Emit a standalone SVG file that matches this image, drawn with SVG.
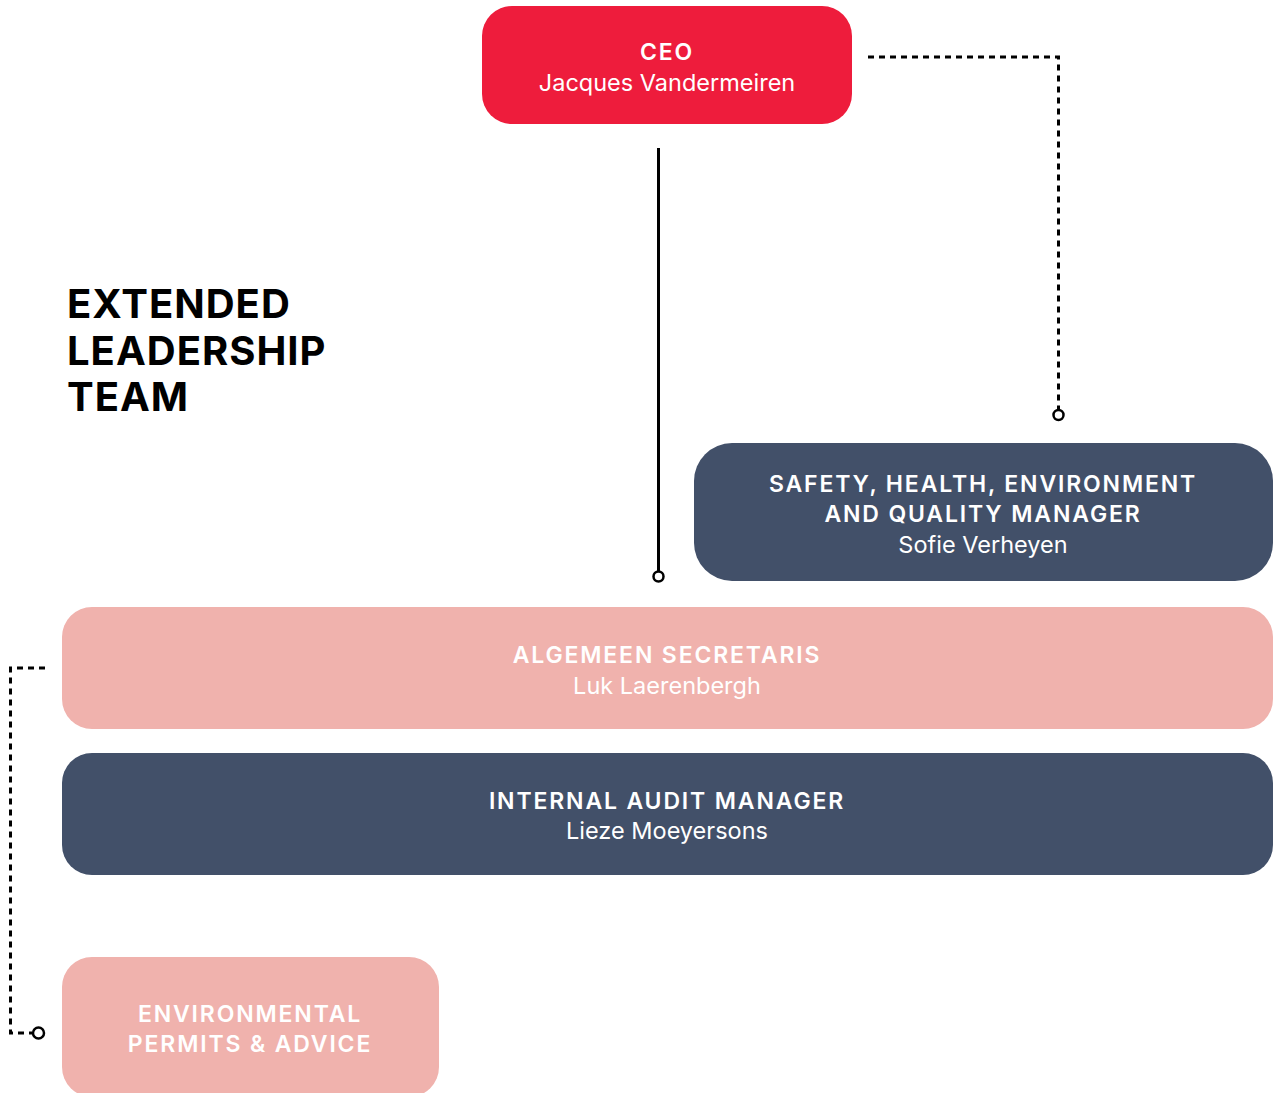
<svg xmlns="http://www.w3.org/2000/svg" width="1274" height="1093" viewBox="0 0 1274 1093">
<style>
.cap{font-family:Inter,"Liberation Sans",sans-serif;font-weight:600;font-size:23px;letter-spacing:1.85px;fill:#fff;text-anchor:middle}
.nm{font-family:Inter,"Liberation Sans",sans-serif;font-weight:400;font-size:23.5px;fill:#fff;text-anchor:middle}
.red{fill:#EE1C3C}
.navy{fill:#425069}
.pink{fill:#F0B2AD}
.solid{stroke:#000;stroke-width:3;fill:none}
.dash{stroke:#000;stroke-width:3;fill:none;stroke-dasharray:6 5}
.end{fill:#fff;stroke:#000;stroke-width:2.5}
.title{font-family:Inter,"Liberation Sans",sans-serif;font-weight:700;font-size:40px;letter-spacing:1px;fill:#000}
</style>
<rect width="1274" height="1093" fill="#fff"/>
<g id="title">
<text class="title" x="67" y="318">EXTENDED</text>
<text class="title" x="67" y="365">LEADERSHIP</text>
<text class="title" x="67" y="411">TEAM</text>
</g>
<g id="connectors">
<line class="solid" x1="658.5" y1="148" x2="658.5" y2="571"/>
<circle class="end" cx="658.5" cy="576.5" r="5"/>
<polyline class="dash" points="868,57 1058.5,57 1058.5,409"/>
<circle class="end" cx="1058.5" cy="415" r="5"/>
<polyline class="dash" points="45,668 10.5,668 10.5,1033 32,1033"/>
<circle class="end" cx="38.5" cy="1033" r="5.5"/>
</g>
<g id="ceo">
<rect class="red" x="482" y="6" width="370" height="118" rx="30"/>
<text class="cap" x="667" y="60">CEO</text>
<text class="nm" x="667" y="91">Jacques Vandermeiren</text>
</g>
<g id="sheq">
<rect class="navy" x="694" y="443" width="579" height="138" rx="38"/>
<text class="cap" x="983" y="492">SAFETY, HEALTH, ENVIRONMENT</text>
<text class="cap" x="983" y="522">AND QUALITY MANAGER</text>
<text class="nm" x="983" y="553">Sofie Verheyen</text>
</g>
<g id="algemeen">
<rect class="pink" x="62" y="607" width="1211" height="122" rx="30"/>
<text class="cap" x="667" y="663">ALGEMEEN SECRETARIS</text>
<text class="nm" x="667" y="694">Luk Laerenbergh</text>
</g>
<g id="audit">
<rect class="navy" x="62" y="753" width="1211" height="122" rx="30"/>
<text class="cap" x="667" y="809">INTERNAL AUDIT MANAGER</text>
<text class="nm" x="667" y="839">Lieze Moeyersons</text>
</g>
<g id="permits">
<rect class="pink" x="62" y="957" width="377" height="140" rx="30"/>
<text class="cap" x="250" y="1022">ENVIRONMENTAL</text>
<text class="cap" x="250" y="1052">PERMITS &amp; ADVICE</text>
</g>
</svg>
